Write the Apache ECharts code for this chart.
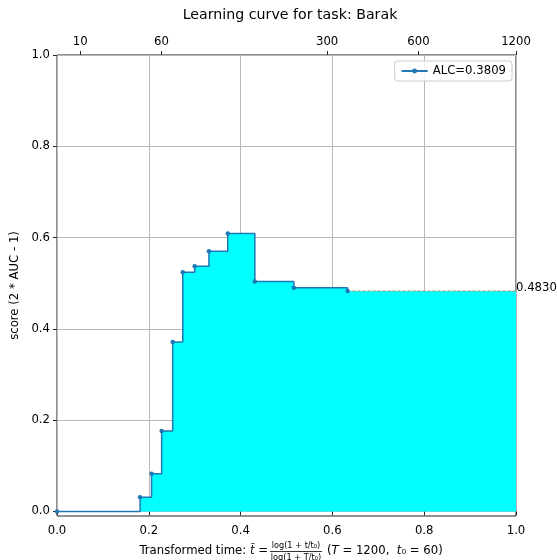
<!DOCTYPE html>
<html>
<head>
<meta charset="utf-8">
<script src="https://cdn.jsdelivr.net/npm/echarts@6/dist/echarts.min.js"></script>
<style>
  html, body { margin: 0; padding: 0; background: #fff; }
  #chart { width: 557px; height: 560px; }
</style>
</head>
<body>
<div id="chart"></div>
<script>
// Learning curve: score after each step, on the transformed time axis
const stepTimes  = [0, 0.181, 0.206, 0.228, 0.252, 0.274, 0.300, 0.331, 0.372, 0.431, 0.516, 0.633];
const stepScores = [0, 0.031, 0.0825, 0.176, 0.371, 0.524, 0.537, 0.570, 0.609, 0.504, 0.490, 0.483];
const alcValue = 0.3809;
const finalScore = 0.483;

// Axis ticks
const xTicks = [0, 0.2, 0.4, 0.6, 0.8, 1.0];
const yTicks = [0, 0.2, 0.4, 0.6, 0.8, 1.0];
const topTickTimes = [10, 60, 300, 600, 1200];
const T = 1200, t0 = 60;

// Transformed time used by the top (real-time) axis
const transform = t => Math.log(1 + t / t0) / Math.log(1 + T / t0);
const topTickPos = topTickTimes.map(transform);

const curve = stepTimes.map((x, i) => [x, stepScores[i]]);
const lastX = stepTimes[stepTimes.length - 1];
const tail = [[lastX, finalScore], [1, finalScore]];
const areaData = curve.concat([[1, finalScore]]);

const FONT = 'DejaVu Sans';
const FS = 11.7;
const alcName = 'ALC=' + alcValue.toFixed(4);

const chart = echarts.init(document.getElementById('chart'), null, { renderer: 'canvas' });

chart.setOption({
  animation: false,
  backgroundColor: '#fff',
  title: {
    text: 'Learning curve for task: Barak',
    left: 285, top: 3, textAlign: 'center',
    textStyle: { fontFamily: FONT, fontSize: 14.2, fontWeight: 'normal', color: '#000' }
  },
  grid: {
    left: 57, right: 41, top: 55, bottom: 44,
    show: true, borderColor: '#222', borderWidth: 1, backgroundColor: 'transparent'
  },
  legend: {
    data: [alcName],
    right: 45, top: 61,
    padding: [4, 6, 4, 6],
    borderColor: '#cccccc', borderWidth: 1, borderRadius: 3,
    backgroundColor: 'rgba(255,255,255,0.85)',
    itemWidth: 26, itemHeight: 6, itemGap: 8,
    textStyle: { fontFamily: FONT, fontSize: FS, color: '#000' }
  },
  xAxis: [
    {
      type: 'value', position: 'bottom', min: 0, max: 1, interval: 0.2,
      axisLine: { show: false },
      axisTick: { show: true, inside: false, length: 4, lineStyle: { color: '#222' } },
      axisLabel: { margin: 9, fontFamily: FONT, fontSize: FS, color: '#000',
                   formatter: v => v.toFixed(1) },
      splitLine: { show: true, lineStyle: { color: '#b8b8b8', width: 1 } }
    },
    {
      type: 'value', position: 'top', min: 0, max: 1,
      axisLine: { show: false },
      axisTick: { show: true, inside: false, length: 4, customValues: topTickPos, lineStyle: { color: '#222' } },
      axisLabel: { margin: 7, fontFamily: FONT, fontSize: FS, color: '#000',
                   customValues: topTickPos,
                   formatter: v => {
                     let best = 0;
                     topTickPos.forEach((p, i) => { if (Math.abs(p - v) < Math.abs(topTickPos[best] - v)) best = i; });
                     return String(topTickTimes[best]);
                   } },
      splitLine: { show: false }
    }
  ],
  yAxis: {
    type: 'value', min: -0.01, max: 1,
    name: 'score (2 * AUC - 1)', nameLocation: 'middle', nameGap: 31,
    nameTextStyle: { fontFamily: FONT, fontSize: FS, color: '#000' },
    axisLine: { show: false },
    axisTick: { show: true, inside: false, length: 4, customValues: yTicks, lineStyle: { color: '#222' } },
    axisLabel: { margin: 7, fontFamily: FONT, fontSize: FS, color: '#000',
                 customValues: yTicks, formatter: v => v.toFixed(1) },
    splitLine: { show: true, lineStyle: { color: '#b8b8b8', width: 1 } }
  },
  series: [
    {
      name: 'area', type: 'line', step: 'end', data: areaData,
      symbol: 'none', silent: true,
      lineStyle: { width: 0, opacity: 0 },
      areaStyle: { color: '#00ffff', opacity: 1, origin: 0 },
      z: 1
    },
    {
      name: 'tail', type: 'line', data: tail,
      symbol: 'none', silent: true,
      lineStyle: { color: '#d08a5c', width: 1.2, type: [3, 2] },
      endLabel: {
        show: true, distance: 0, offset: [0, -3],
        formatter: p => p.value[1].toFixed(4),
        fontFamily: FONT, fontSize: FS, color: '#000'
      },
      z: 2
    },
    {
      name: alcName, type: 'line', step: 'end', data: curve,
      symbol: 'circle', symbolSize: 4.5,
      itemStyle: { color: '#1f77b4' },
      lineStyle: { color: '#1f77b4', width: 1.5 },
      z: 3
    }
  ],
  graphic: [
    {
      type: 'text', x: 268, y: 551,
      style: {
        text: '{n|Transformed time: }{i|t\u0303}{n| =}',
        align: 'right', verticalAlign: 'middle',
        rich: {
          n: { fontFamily: FONT, fontSize: FS, fill: '#000' },
          i: { fontFamily: FONT, fontSize: FS, fontStyle: 'italic', fill: '#000' }
        }
      }
    },
    {
      type: 'text', x: 296, y: 546,
      style: { text: 'log(1 + t/t\u2080)', fontFamily: FONT, fontSize: 8.2, fill: '#000',
               align: 'center', verticalAlign: 'middle' }
    },
    {
      type: 'line', shape: { x1: 270, y1: 551.5, x2: 322, y2: 551.5 },
      style: { stroke: '#000', lineWidth: 0.8 }
    },
    {
      type: 'text', x: 296, y: 557.5,
      style: { text: 'log(1 + T/t\u2080)', fontFamily: FONT, fontSize: 8.2, fill: '#000',
               align: 'center', verticalAlign: 'middle' }
    },
    {
      type: 'text', x: 327, y: 551,
      style: {
        text: '{n|(}{i|T}{n| = 1200,  }{i|t}{n|\u2080 = 60)}',
        align: 'left', verticalAlign: 'middle',
        rich: {
          n: { fontFamily: FONT, fontSize: FS, fill: '#000' },
          i: { fontFamily: FONT, fontSize: FS, fontStyle: 'italic', fill: '#000' }
        }
      }
    }
  ]
});
</script>
</body>
</html>
